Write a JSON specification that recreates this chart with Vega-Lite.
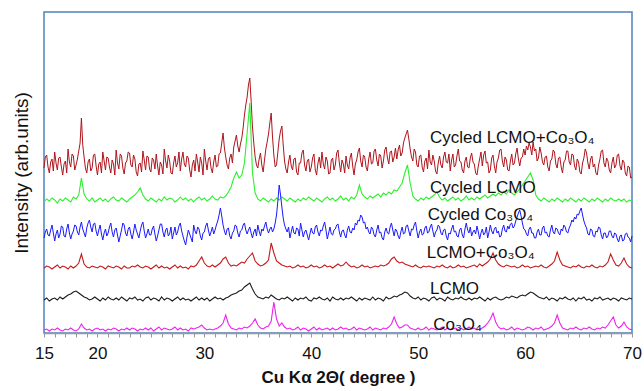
{
"$schema":"https://vega.github.io/schema/vega-lite/v6.json",
"width":588,"height":321,
"autosize":{"type":"none"},
"padding":{"left":44,"top":12,"right":12,"bottom":58},
"background":"white",
"config":{"view":{"stroke":"#4f81bd","strokeWidth":1.5},"font":"Liberation Sans"},
"datasets":{
"A":[{"x":15,"y":165},{"x":15.125,"y":176},{"x":15.25,"y":178},{"x":15.375,"y":166},{"x":15.5,"y":160},{"x":15.625,"y":171},{"x":15.75,"y":174},{"x":15.875,"y":162},{"x":16,"y":181},{"x":16.125,"y":170},{"x":16.25,"y":163},{"x":16.375,"y":175},{"x":16.5,"y":176},{"x":16.625,"y":166},{"x":16.75,"y":158},{"x":16.875,"y":169},{"x":17,"y":172},{"x":17.125,"y":160},{"x":17.25,"y":184},{"x":17.375,"y":171},{"x":17.5,"y":166},{"x":17.625,"y":179},{"x":17.75,"y":177},{"x":17.875,"y":163},{"x":18,"y":168},{"x":18.125,"y":174},{"x":18.25,"y":182},{"x":18.375,"y":190},{"x":18.5,"y":215},{"x":18.625,"y":188},{"x":18.75,"y":176},{"x":18.875,"y":165},{"x":19,"y":160},{"x":19.125,"y":171},{"x":19.25,"y":174},{"x":19.375,"y":162},{"x":19.5,"y":165},{"x":19.625,"y":178},{"x":19.75,"y":179},{"x":19.875,"y":167},{"x":20,"y":158},{"x":20.125,"y":169},{"x":20.25,"y":171},{"x":20.375,"y":160},{"x":20.5,"y":181},{"x":20.625,"y":172},{"x":20.75,"y":163},{"x":20.875,"y":176},{"x":21,"y":175},{"x":21.125,"y":166},{"x":21.25,"y":160},{"x":21.375,"y":173},{"x":21.5,"y":169},{"x":21.625,"y":158},{"x":21.75,"y":183},{"x":21.875,"y":170},{"x":22,"y":164},{"x":22.125,"y":179},{"x":22.25,"y":177},{"x":22.375,"y":165},{"x":22.5,"y":159},{"x":22.625,"y":170},{"x":22.75,"y":172},{"x":22.875,"y":181},{"x":23,"y":180},{"x":23.125,"y":168},{"x":23.25,"y":166},{"x":23.375,"y":178},{"x":23.5,"y":174},{"x":23.625,"y":161},{"x":23.75,"y":157},{"x":23.875,"y":169},{"x":24,"y":170},{"x":24.125,"y":161},{"x":24.25,"y":182},{"x":24.375,"y":173},{"x":24.5,"y":163},{"x":24.625,"y":177},{"x":24.75,"y":176},{"x":24.875,"y":164},{"x":25,"y":161},{"x":25.125,"y":175},{"x":25.25,"y":173},{"x":25.375,"y":164},{"x":25.5,"y":179},{"x":25.625,"y":167},{"x":25.75,"y":158},{"x":25.875,"y":171},{"x":26,"y":168},{"x":26.125,"y":159},{"x":26.25,"y":184},{"x":26.375,"y":172},{"x":26.5,"y":165},{"x":26.625,"y":178},{"x":26.75,"y":172},{"x":26.875,"y":160},{"x":27,"y":159},{"x":27.125,"y":170},{"x":27.25,"y":177},{"x":27.375,"y":166},{"x":27.5,"y":170},{"x":27.625,"y":181},{"x":27.75,"y":162},{"x":27.875,"y":174},{"x":28,"y":181},{"x":28.125,"y":169},{"x":28.25,"y":166},{"x":28.375,"y":177},{"x":28.5,"y":175},{"x":28.625,"y":163},{"x":28.75,"y":156},{"x":28.875,"y":168},{"x":29,"y":173},{"x":29.125,"y":162},{"x":29.25,"y":179},{"x":29.375,"y":171},{"x":29.5,"y":161},{"x":29.625,"y":176},{"x":29.75,"y":170},{"x":29.875,"y":158},{"x":30,"y":184},{"x":30.125,"y":172},{"x":30.25,"y":163},{"x":30.375,"y":174},{"x":30.5,"y":176},{"x":30.625,"y":165},{"x":30.75,"y":160},{"x":30.875,"y":171},{"x":31,"y":178},{"x":31.125,"y":166},{"x":31.25,"y":167},{"x":31.375,"y":179},{"x":31.5,"y":180},{"x":31.625,"y":190},{"x":31.75,"y":200},{"x":31.875,"y":185},{"x":32,"y":176},{"x":32.125,"y":168},{"x":32.25,"y":164},{"x":32.375,"y":175},{"x":32.5,"y":179},{"x":32.625,"y":170},{"x":32.75,"y":186},{"x":32.875,"y":192},{"x":33,"y":198},{"x":33.125,"y":187},{"x":33.25,"y":181},{"x":33.375,"y":189},{"x":33.5,"y":195},{"x":33.625,"y":205},{"x":33.75,"y":218},{"x":33.875,"y":228},{"x":34,"y":236},{"x":34.125,"y":248},{"x":34.25,"y":255},{"x":34.375,"y":232},{"x":34.5,"y":206},{"x":34.625,"y":190},{"x":34.75,"y":176},{"x":34.875,"y":168},{"x":35,"y":165},{"x":35.125,"y":174},{"x":35.25,"y":180},{"x":35.375,"y":168},{"x":35.5,"y":161},{"x":35.625,"y":173},{"x":35.75,"y":184},{"x":35.875,"y":191},{"x":36,"y":199},{"x":36.125,"y":210},{"x":36.25,"y":220},{"x":36.375,"y":196},{"x":36.5,"y":178},{"x":36.625,"y":166},{"x":36.75,"y":168},{"x":36.875,"y":181},{"x":37,"y":194},{"x":37.125,"y":202},{"x":37.25,"y":207},{"x":37.375,"y":188},{"x":37.5,"y":172},{"x":37.625,"y":164},{"x":37.75,"y":160},{"x":37.875,"y":171},{"x":38,"y":178},{"x":38.125,"y":167},{"x":38.25,"y":163},{"x":38.375,"y":174},{"x":38.5,"y":175},{"x":38.625,"y":161},{"x":38.75,"y":158},{"x":38.875,"y":170},{"x":39,"y":170},{"x":39.125,"y":180},{"x":39.25,"y":183},{"x":39.375,"y":168},{"x":39.5,"y":162},{"x":39.625,"y":172},{"x":39.75,"y":174},{"x":39.875,"y":161},{"x":40,"y":166},{"x":40.125,"y":175},{"x":40.25,"y":179},{"x":40.375,"y":163},{"x":40.5,"y":158},{"x":40.625,"y":170},{"x":40.75,"y":176},{"x":40.875,"y":165},{"x":41,"y":181},{"x":41.125,"y":169},{"x":41.25,"y":164},{"x":41.375,"y":176},{"x":41.5,"y":172},{"x":41.625,"y":159},{"x":41.75,"y":160},{"x":41.875,"y":173},{"x":42,"y":175},{"x":42.125,"y":163},{"x":42.25,"y":168},{"x":42.375,"y":180},{"x":42.5,"y":183},{"x":42.625,"y":170},{"x":42.75,"y":161},{"x":42.875,"y":173},{"x":43,"y":169},{"x":43.125,"y":160},{"x":43.25,"y":177},{"x":43.375,"y":168},{"x":43.5,"y":164},{"x":43.625,"y":175},{"x":43.75,"y":180},{"x":43.875,"y":167},{"x":44,"y":158},{"x":44.125,"y":169},{"x":44.25,"y":173},{"x":44.375,"y":181},{"x":44.5,"y":185},{"x":44.625,"y":172},{"x":44.75,"y":166},{"x":44.875,"y":178},{"x":45,"y":176},{"x":45.125,"y":166},{"x":45.25,"y":162},{"x":45.375,"y":174},{"x":45.5,"y":181},{"x":45.625,"y":169},{"x":45.75,"y":170},{"x":45.875,"y":182},{"x":46,"y":184},{"x":46.125,"y":173},{"x":46.25,"y":167},{"x":46.375,"y":179},{"x":46.5,"y":177},{"x":46.625,"y":165},{"x":46.75,"y":172},{"x":46.875,"y":183},{"x":47,"y":186},{"x":47.125,"y":175},{"x":47.25,"y":169},{"x":47.375,"y":181},{"x":47.5,"y":182},{"x":47.625,"y":171},{"x":47.75,"y":176},{"x":47.875,"y":185},{"x":48,"y":174},{"x":48.125,"y":183},{"x":48.25,"y":188},{"x":48.375,"y":177},{"x":48.5,"y":180},{"x":48.625,"y":190},{"x":48.75,"y":195},{"x":48.875,"y":199},{"x":49,"y":203},{"x":49.125,"y":194},{"x":49.25,"y":184},{"x":49.375,"y":176},{"x":49.5,"y":172},{"x":49.625,"y":184},{"x":49.75,"y":181},{"x":49.875,"y":168},{"x":50,"y":166},{"x":50.125,"y":177},{"x":50.25,"y":178},{"x":50.375,"y":166},{"x":50.5,"y":161},{"x":50.625,"y":172},{"x":50.75,"y":175},{"x":50.875,"y":164},{"x":51,"y":183},{"x":51.125,"y":171},{"x":51.25,"y":168},{"x":51.375,"y":178},{"x":51.5,"y":172},{"x":51.625,"y":162},{"x":51.75,"y":159},{"x":51.875,"y":170},{"x":52,"y":177},{"x":52.125,"y":168},{"x":52.25,"y":165},{"x":52.375,"y":176},{"x":52.5,"y":181},{"x":52.625,"y":171},{"x":52.75,"y":170},{"x":52.875,"y":179},{"x":53,"y":162},{"x":53.125,"y":173},{"x":53.25,"y":179},{"x":53.375,"y":166},{"x":53.5,"y":168},{"x":53.625,"y":177},{"x":53.75,"y":184},{"x":53.875,"y":172},{"x":54,"y":171},{"x":54.125,"y":163},{"x":54.25,"y":160},{"x":54.375,"y":172},{"x":54.5,"y":176},{"x":54.625,"y":166},{"x":54.75,"y":165},{"x":54.875,"y":175},{"x":55,"y":180},{"x":55.125,"y":171},{"x":55.25,"y":169},{"x":55.375,"y":160},{"x":55.5,"y":158},{"x":55.625,"y":167},{"x":55.75,"y":174},{"x":55.875,"y":181},{"x":56,"y":167},{"x":56.125,"y":178},{"x":56.25,"y":182},{"x":56.375,"y":170},{"x":56.5,"y":171},{"x":56.625,"y":160},{"x":56.75,"y":163},{"x":56.875,"y":175},{"x":57,"y":178},{"x":57.125,"y":167},{"x":57.25,"y":160},{"x":57.375,"y":171},{"x":57.5,"y":175},{"x":57.625,"y":183},{"x":57.75,"y":184},{"x":57.875,"y":172},{"x":58,"y":166},{"x":58.125,"y":176},{"x":58.25,"y":173},{"x":58.375,"y":163},{"x":58.5,"y":162},{"x":58.625,"y":172},{"x":58.75,"y":179},{"x":58.875,"y":168},{"x":59,"y":170},{"x":59.125,"y":179},{"x":59.25,"y":185},{"x":59.375,"y":174},{"x":59.5,"y":167},{"x":59.625,"y":175},{"x":59.75,"y":176},{"x":59.875,"y":184},{"x":60,"y":178},{"x":60.125,"y":187},{"x":60.25,"y":183},{"x":60.375,"y":190},{"x":60.5,"y":186},{"x":60.625,"y":178},{"x":60.75,"y":191},{"x":60.875,"y":182},{"x":61,"y":184},{"x":61.125,"y":172},{"x":61.25,"y":175},{"x":61.375,"y":186},{"x":61.5,"y":180},{"x":61.625,"y":171},{"x":61.75,"y":168},{"x":61.875,"y":176},{"x":62,"y":177},{"x":62.125,"y":166},{"x":62.25,"y":162},{"x":62.375,"y":172},{"x":62.5,"y":174},{"x":62.625,"y":183},{"x":62.75,"y":181},{"x":62.875,"y":169},{"x":63,"y":165},{"x":63.125,"y":175},{"x":63.25,"y":176},{"x":63.375,"y":166},{"x":63.5,"y":160},{"x":63.625,"y":171},{"x":63.75,"y":173},{"x":63.875,"y":182},{"x":64,"y":182},{"x":64.125,"y":171},{"x":64.25,"y":168},{"x":64.375,"y":179},{"x":64.5,"y":178},{"x":64.625,"y":167},{"x":64.75,"y":163},{"x":64.875,"y":174},{"x":65,"y":171},{"x":65.125,"y":161},{"x":65.25,"y":159},{"x":65.375,"y":170},{"x":65.5,"y":175},{"x":65.625,"y":184},{"x":65.75,"y":180},{"x":65.875,"y":170},{"x":66,"y":164},{"x":66.125,"y":174},{"x":66.25,"y":177},{"x":66.375,"y":166},{"x":66.5,"y":169},{"x":66.625,"y":160},{"x":66.75,"y":158},{"x":66.875,"y":168},{"x":67,"y":174},{"x":67.125,"y":182},{"x":67.25,"y":183},{"x":67.375,"y":170},{"x":67.5,"y":166},{"x":67.625,"y":175},{"x":67.75,"y":172},{"x":67.875,"y":163},{"x":68,"y":160},{"x":68.125,"y":170},{"x":68.25,"y":176},{"x":68.375,"y":165},{"x":68.5,"y":168},{"x":68.625,"y":178},{"x":68.75,"y":179},{"x":68.875,"y":167},{"x":69,"y":163},{"x":69.125,"y":173},{"x":69.25,"y":171},{"x":69.375,"y":160},{"x":69.5,"y":157},{"x":69.625,"y":167},{"x":69.75,"y":166},{"x":69.875,"y":155},{"x":70,"y":156}],
"B":[{"x":15,"y":131},{"x":15.25,"y":134},{"x":15.5,"y":132},{"x":15.75,"y":135},{"x":16,"y":133},{"x":16.25,"y":130},{"x":16.5,"y":134},{"x":16.75,"y":132},{"x":17,"y":135},{"x":17.25,"y":133},{"x":17.5,"y":131},{"x":17.75,"y":136},{"x":18,"y":134},{"x":18.25,"y":138},{"x":18.5,"y":155},{"x":18.75,"y":139},{"x":19,"y":134},{"x":19.25,"y":132},{"x":19.5,"y":135},{"x":19.75,"y":131},{"x":20,"y":133},{"x":20.25,"y":135},{"x":20.5,"y":132},{"x":20.75,"y":134},{"x":21,"y":131},{"x":21.25,"y":134},{"x":21.5,"y":136},{"x":21.75,"y":133},{"x":22,"y":132},{"x":22.25,"y":135},{"x":22.5,"y":133},{"x":22.75,"y":131},{"x":23,"y":134},{"x":23.25,"y":136},{"x":23.5,"y":138},{"x":23.75,"y":141},{"x":24,"y":145},{"x":24.25,"y":138},{"x":24.5,"y":134},{"x":24.75,"y":132},{"x":25,"y":135},{"x":25.25,"y":133},{"x":25.5,"y":131},{"x":25.75,"y":134},{"x":26,"y":132},{"x":26.25,"y":136},{"x":26.5,"y":133},{"x":26.75,"y":135},{"x":27,"y":134},{"x":27.25,"y":131},{"x":27.5,"y":133},{"x":27.75,"y":136},{"x":28,"y":133},{"x":28.25,"y":135},{"x":28.5,"y":132},{"x":28.75,"y":134},{"x":29,"y":131},{"x":29.25,"y":134},{"x":29.5,"y":136},{"x":29.75,"y":133},{"x":30,"y":135},{"x":30.25,"y":132},{"x":30.5,"y":134},{"x":30.75,"y":137},{"x":31,"y":134},{"x":31.25,"y":133},{"x":31.5,"y":136},{"x":31.75,"y":135},{"x":32,"y":137},{"x":32.25,"y":141},{"x":32.5,"y":146},{"x":32.75,"y":155},{"x":33,"y":161},{"x":33.25,"y":155},{"x":33.5,"y":158},{"x":33.75,"y":170},{"x":34,"y":200},{"x":34.25,"y":230},{"x":34.5,"y":160},{"x":34.75,"y":140},{"x":35,"y":134},{"x":35.25,"y":132},{"x":35.5,"y":135},{"x":35.75,"y":133},{"x":36,"y":131},{"x":36.25,"y":134},{"x":36.5,"y":132},{"x":36.75,"y":135},{"x":37,"y":133},{"x":37.25,"y":136},{"x":37.5,"y":134},{"x":37.75,"y":132},{"x":38,"y":135},{"x":38.25,"y":133},{"x":38.5,"y":131},{"x":38.75,"y":134},{"x":39,"y":132},{"x":39.25,"y":135},{"x":39.5,"y":133},{"x":39.75,"y":136},{"x":40,"y":134},{"x":40.25,"y":132},{"x":40.5,"y":135},{"x":40.75,"y":133},{"x":41,"y":131},{"x":41.25,"y":134},{"x":41.5,"y":136},{"x":41.75,"y":133},{"x":42,"y":135},{"x":42.25,"y":132},{"x":42.5,"y":134},{"x":42.75,"y":137},{"x":43,"y":133},{"x":43.25,"y":135},{"x":43.5,"y":132},{"x":43.75,"y":136},{"x":44,"y":134},{"x":44.25,"y":138},{"x":44.5,"y":148},{"x":44.75,"y":139},{"x":45,"y":136},{"x":45.25,"y":134},{"x":45.5,"y":137},{"x":45.75,"y":135},{"x":46,"y":137},{"x":46.25,"y":139},{"x":46.5,"y":136},{"x":46.75,"y":140},{"x":47,"y":138},{"x":47.25,"y":141},{"x":47.5,"y":139},{"x":47.75,"y":143},{"x":48,"y":142},{"x":48.25,"y":146},{"x":48.5,"y":150},{"x":48.75,"y":160},{"x":49,"y":168},{"x":49.25,"y":150},{"x":49.5,"y":137},{"x":49.75,"y":134},{"x":50,"y":132},{"x":50.25,"y":135},{"x":50.5,"y":133},{"x":50.75,"y":136},{"x":51,"y":134},{"x":51.25,"y":136},{"x":51.5,"y":138},{"x":51.75,"y":141},{"x":52,"y":136},{"x":52.25,"y":133},{"x":52.5,"y":135},{"x":52.75,"y":132},{"x":53,"y":134},{"x":53.25,"y":136},{"x":53.5,"y":133},{"x":53.75,"y":135},{"x":54,"y":132},{"x":54.25,"y":134},{"x":54.5,"y":137},{"x":54.75,"y":133},{"x":55,"y":135},{"x":55.25,"y":133},{"x":55.5,"y":136},{"x":55.75,"y":134},{"x":56,"y":136},{"x":56.25,"y":138},{"x":56.5,"y":135},{"x":56.75,"y":137},{"x":57,"y":139},{"x":57.25,"y":137},{"x":57.5,"y":140},{"x":57.75,"y":138},{"x":58,"y":141},{"x":58.25,"y":139},{"x":58.5,"y":143},{"x":58.75,"y":140},{"x":59,"y":138},{"x":59.25,"y":141},{"x":59.5,"y":144},{"x":59.75,"y":148},{"x":60,"y":152},{"x":60.25,"y":156},{"x":60.5,"y":160},{"x":60.75,"y":153},{"x":61,"y":138},{"x":61.25,"y":134},{"x":61.5,"y":132},{"x":61.75,"y":135},{"x":62,"y":133},{"x":62.25,"y":131},{"x":62.5,"y":134},{"x":62.75,"y":132},{"x":63,"y":135},{"x":63.25,"y":133},{"x":63.5,"y":131},{"x":63.75,"y":134},{"x":64,"y":132},{"x":64.25,"y":135},{"x":64.5,"y":133},{"x":64.75,"y":131},{"x":65,"y":134},{"x":65.25,"y":132},{"x":65.5,"y":135},{"x":65.75,"y":133},{"x":66,"y":131},{"x":66.25,"y":134},{"x":66.5,"y":132},{"x":66.75,"y":135},{"x":67,"y":133},{"x":67.25,"y":131},{"x":67.5,"y":134},{"x":67.75,"y":132},{"x":68,"y":135},{"x":68.25,"y":133},{"x":68.5,"y":132},{"x":68.75,"y":134},{"x":69,"y":132},{"x":69.25,"y":134},{"x":69.5,"y":131},{"x":69.75,"y":133},{"x":70,"y":132}],
"C":[{"x":15,"y":95},{"x":15.125,"y":101},{"x":15.25,"y":104},{"x":15.375,"y":98},{"x":15.5,"y":97},{"x":15.625,"y":103},{"x":15.75,"y":108},{"x":15.875,"y":100},{"x":16,"y":92},{"x":16.125,"y":99},{"x":16.25,"y":103},{"x":16.375,"y":95},{"x":16.5,"y":99},{"x":16.625,"y":107},{"x":16.75,"y":106},{"x":16.875,"y":97},{"x":17,"y":96},{"x":17.125,"y":104},{"x":17.25,"y":109},{"x":17.375,"y":100},{"x":17.5,"y":94},{"x":17.625,"y":99},{"x":17.75,"y":102},{"x":17.875,"y":108},{"x":18,"y":107},{"x":18.125,"y":101},{"x":18.25,"y":98},{"x":18.375,"y":106},{"x":18.5,"y":111},{"x":18.625,"y":104},{"x":18.75,"y":100},{"x":18.875,"y":96},{"x":19,"y":105},{"x":19.125,"y":110},{"x":19.25,"y":113},{"x":19.375,"y":106},{"x":19.5,"y":101},{"x":19.625,"y":109},{"x":19.75,"y":110},{"x":19.875,"y":102},{"x":20,"y":97},{"x":20.125,"y":103},{"x":20.25,"y":108},{"x":20.375,"y":99},{"x":20.5,"y":93},{"x":20.625,"y":100},{"x":20.75,"y":104},{"x":20.875,"y":97},{"x":21,"y":100},{"x":21.125,"y":106},{"x":21.25,"y":110},{"x":21.375,"y":101},{"x":21.5,"y":96},{"x":21.625,"y":103},{"x":21.75,"y":105},{"x":21.875,"y":98},{"x":22,"y":91},{"x":22.125,"y":97},{"x":22.25,"y":103},{"x":22.375,"y":110},{"x":22.5,"y":108},{"x":22.625,"y":100},{"x":22.75,"y":97},{"x":22.875,"y":104},{"x":23,"y":106},{"x":23.125,"y":99},{"x":23.25,"y":94},{"x":23.375,"y":101},{"x":23.5,"y":109},{"x":23.625,"y":103},{"x":23.75,"y":99},{"x":23.875,"y":95},{"x":24,"y":102},{"x":24.125,"y":108},{"x":24.25,"y":111},{"x":24.375,"y":102},{"x":24.5,"y":95},{"x":24.625,"y":99},{"x":24.75,"y":104},{"x":24.875,"y":98},{"x":25,"y":98},{"x":25.125,"y":104},{"x":25.25,"y":107},{"x":25.375,"y":99},{"x":25.5,"y":92},{"x":25.625,"y":97},{"x":25.75,"y":103},{"x":25.875,"y":109},{"x":26,"y":109},{"x":26.125,"y":101},{"x":26.25,"y":96},{"x":26.375,"y":103},{"x":26.5,"y":105},{"x":26.625,"y":97},{"x":26.75,"y":99},{"x":26.875,"y":106},{"x":27,"y":94},{"x":27.125,"y":100},{"x":27.25,"y":106},{"x":27.375,"y":98},{"x":27.5,"y":101},{"x":27.625,"y":107},{"x":27.75,"y":110},{"x":27.875,"y":102},{"x":28,"y":97},{"x":28.125,"y":92},{"x":28.25,"y":88},{"x":28.375,"y":96},{"x":28.5,"y":103},{"x":28.625,"y":99},{"x":28.75,"y":95},{"x":28.875,"y":91},{"x":29,"y":108},{"x":29.125,"y":102},{"x":29.25,"y":99},{"x":29.375,"y":106},{"x":29.5,"y":104},{"x":29.625,"y":97},{"x":29.75,"y":93},{"x":29.875,"y":100},{"x":30,"y":101},{"x":30.125,"y":107},{"x":30.25,"y":110},{"x":30.375,"y":103},{"x":30.5,"y":97},{"x":30.625,"y":101},{"x":30.75,"y":106},{"x":30.875,"y":99},{"x":31,"y":103},{"x":31.125,"y":108},{"x":31.25,"y":112},{"x":31.375,"y":118},{"x":31.5,"y":125},{"x":31.625,"y":117},{"x":31.75,"y":108},{"x":31.875,"y":102},{"x":32,"y":98},{"x":32.125,"y":104},{"x":32.25,"y":105},{"x":32.375,"y":97},{"x":32.5,"y":94},{"x":32.625,"y":100},{"x":32.75,"y":102},{"x":32.875,"y":108},{"x":33,"y":107},{"x":33.125,"y":100},{"x":33.25,"y":96},{"x":33.375,"y":102},{"x":33.5,"y":103},{"x":33.625,"y":108},{"x":33.75,"y":110},{"x":33.875,"y":103},{"x":34,"y":99},{"x":34.125,"y":103},{"x":34.25,"y":106},{"x":34.375,"y":100},{"x":34.5,"y":95},{"x":34.625,"y":101},{"x":34.75,"y":104},{"x":34.875,"y":97},{"x":35,"y":108},{"x":35.125,"y":102},{"x":35.25,"y":97},{"x":35.375,"y":104},{"x":35.5,"y":102},{"x":35.625,"y":107},{"x":35.75,"y":111},{"x":35.875,"y":104},{"x":36,"y":100},{"x":36.125,"y":104},{"x":36.25,"y":106},{"x":36.375,"y":101},{"x":36.5,"y":104},{"x":36.625,"y":110},{"x":36.75,"y":118},{"x":36.875,"y":132},{"x":37,"y":148},{"x":37.125,"y":138},{"x":37.25,"y":126},{"x":37.375,"y":115},{"x":37.5,"y":108},{"x":37.625,"y":104},{"x":37.75,"y":101},{"x":37.875,"y":106},{"x":38,"y":95},{"x":38.125,"y":101},{"x":38.25,"y":107},{"x":38.375,"y":100},{"x":38.5,"y":99},{"x":38.625,"y":105},{"x":38.75,"y":104},{"x":38.875,"y":97},{"x":39,"y":110},{"x":39.125,"y":103},{"x":39.25,"y":96},{"x":39.375,"y":101},{"x":39.5,"y":103},{"x":39.625,"y":98},{"x":39.75,"y":93},{"x":39.875,"y":99},{"x":40,"y":105},{"x":40.125,"y":100},{"x":40.25,"y":99},{"x":40.375,"y":106},{"x":40.5,"y":108},{"x":40.625,"y":101},{"x":40.75,"y":97},{"x":40.875,"y":103},{"x":41,"y":102},{"x":41.125,"y":107},{"x":41.25,"y":111},{"x":41.375,"y":103},{"x":41.5,"y":94},{"x":41.625,"y":100},{"x":41.75,"y":106},{"x":41.875,"y":99},{"x":42,"y":98},{"x":42.125,"y":103},{"x":42.25,"y":104},{"x":42.375,"y":108},{"x":42.5,"y":109},{"x":42.625,"y":101},{"x":42.75,"y":96},{"x":42.875,"y":102},{"x":43,"y":103},{"x":43.125,"y":98},{"x":43.25,"y":95},{"x":43.375,"y":103},{"x":43.5,"y":107},{"x":43.625,"y":101},{"x":43.75,"y":100},{"x":43.875,"y":105},{"x":44,"y":103},{"x":44.125,"y":110},{"x":44.25,"y":108},{"x":44.375,"y":113},{"x":44.5,"y":112},{"x":44.625,"y":118},{"x":44.75,"y":116},{"x":44.875,"y":110},{"x":45,"y":111},{"x":45.125,"y":104},{"x":45.25,"y":106},{"x":45.375,"y":101},{"x":45.5,"y":99},{"x":45.625,"y":106},{"x":45.75,"y":104},{"x":45.875,"y":98},{"x":46,"y":96},{"x":46.125,"y":103},{"x":46.25,"y":108},{"x":46.375,"y":100},{"x":46.5,"y":101},{"x":46.625,"y":95},{"x":46.75,"y":93},{"x":46.875,"y":101},{"x":47,"y":105},{"x":47.125,"y":100},{"x":47.25,"y":99},{"x":47.375,"y":106},{"x":47.5,"y":110},{"x":47.625,"y":103},{"x":47.75,"y":97},{"x":47.875,"y":104},{"x":48,"y":102},{"x":48.125,"y":97},{"x":48.25,"y":94},{"x":48.375,"y":101},{"x":48.5,"y":106},{"x":48.625,"y":99},{"x":48.75,"y":100},{"x":48.875,"y":107},{"x":49,"y":108},{"x":49.125,"y":102},{"x":49.25,"y":97},{"x":49.375,"y":104},{"x":49.5,"y":103},{"x":49.625,"y":108},{"x":49.75,"y":111},{"x":49.875,"y":102},{"x":50,"y":95},{"x":50.125,"y":101},{"x":50.25,"y":104},{"x":50.375,"y":98},{"x":50.5,"y":99},{"x":50.625,"y":105},{"x":50.75,"y":107},{"x":50.875,"y":100},{"x":51,"y":101},{"x":51.125,"y":106},{"x":51.25,"y":109},{"x":51.375,"y":102},{"x":51.5,"y":96},{"x":51.625,"y":101},{"x":51.75,"y":103},{"x":51.875,"y":108},{"x":52,"y":106},{"x":52.125,"y":100},{"x":52.25,"y":98},{"x":52.375,"y":103},{"x":52.5,"y":104},{"x":52.625,"y":97},{"x":52.75,"y":93},{"x":52.875,"y":100},{"x":53,"y":99},{"x":53.125,"y":104},{"x":53.25,"y":108},{"x":53.375,"y":101},{"x":53.5,"y":102},{"x":53.625,"y":97},{"x":53.75,"y":96},{"x":53.875,"y":103},{"x":54,"y":105},{"x":54.125,"y":98},{"x":54.25,"y":95},{"x":54.375,"y":104},{"x":54.5,"y":110},{"x":54.625,"y":103},{"x":54.75,"y":100},{"x":54.875,"y":106},{"x":55,"y":97},{"x":55.125,"y":101},{"x":55.25,"y":103},{"x":55.375,"y":99},{"x":55.5,"y":107},{"x":55.625,"y":101},{"x":55.75,"y":94},{"x":55.875,"y":100},{"x":56,"y":104},{"x":56.125,"y":98},{"x":56.25,"y":100},{"x":56.375,"y":106},{"x":56.5,"y":95},{"x":56.625,"y":101},{"x":56.75,"y":108},{"x":56.875,"y":102},{"x":57,"y":99},{"x":57.125,"y":104},{"x":57.25,"y":106},{"x":57.375,"y":100},{"x":57.5,"y":102},{"x":57.625,"y":96},{"x":57.75,"y":97},{"x":57.875,"y":104},{"x":58,"y":108},{"x":58.125,"y":102},{"x":58.25,"y":101},{"x":58.375,"y":107},{"x":58.5,"y":104},{"x":58.625,"y":109},{"x":58.75,"y":110},{"x":58.875,"y":105},{"x":59,"y":107},{"x":59.125,"y":112},{"x":59.25,"y":116},{"x":59.375,"y":120},{"x":59.5,"y":123},{"x":59.625,"y":117},{"x":59.75,"y":110},{"x":59.875,"y":104},{"x":60,"y":103},{"x":60.125,"y":99},{"x":60.25,"y":97},{"x":60.375,"y":104},{"x":60.5,"y":106},{"x":60.625,"y":100},{"x":60.75,"y":100},{"x":60.875,"y":95},{"x":61,"y":95},{"x":61.125,"y":101},{"x":61.25,"y":104},{"x":61.375,"y":98},{"x":61.5,"y":98},{"x":61.625,"y":105},{"x":61.75,"y":107},{"x":61.875,"y":100},{"x":62,"y":101},{"x":62.125,"y":97},{"x":62.25,"y":96},{"x":62.375,"y":103},{"x":62.5,"y":108},{"x":62.625,"y":101},{"x":62.75,"y":99},{"x":62.875,"y":105},{"x":63,"y":104},{"x":63.125,"y":100},{"x":63.25,"y":98},{"x":63.375,"y":104},{"x":63.5,"y":102},{"x":63.625,"y":108},{"x":63.75,"y":106},{"x":63.875,"y":101},{"x":64,"y":100},{"x":64.125,"y":105},{"x":64.25,"y":108},{"x":64.375,"y":113},{"x":64.5,"y":111},{"x":64.625,"y":116},{"x":64.75,"y":114},{"x":64.875,"y":119},{"x":65,"y":118},{"x":65.125,"y":122},{"x":65.25,"y":125},{"x":65.375,"y":118},{"x":65.5,"y":112},{"x":65.625,"y":108},{"x":65.75,"y":105},{"x":65.875,"y":99},{"x":66,"y":98},{"x":66.125,"y":104},{"x":66.25,"y":103},{"x":66.375,"y":97},{"x":66.5,"y":96},{"x":66.625,"y":102},{"x":66.75,"y":101},{"x":66.875,"y":106},{"x":67,"y":105},{"x":67.125,"y":98},{"x":67.25,"y":94},{"x":67.375,"y":100},{"x":67.5,"y":100},{"x":67.625,"y":95},{"x":67.75,"y":97},{"x":67.875,"y":102},{"x":68,"y":102},{"x":68.125,"y":97},{"x":68.25,"y":95},{"x":68.375,"y":100},{"x":68.5,"y":99},{"x":68.625,"y":94},{"x":68.75,"y":91},{"x":68.875,"y":97},{"x":69,"y":98},{"x":69.125,"y":92},{"x":69.25,"y":93},{"x":69.375,"y":99},{"x":69.5,"y":100},{"x":69.625,"y":96},{"x":69.75,"y":95},{"x":69.875,"y":91},{"x":70,"y":97}],
"D":[{"x":15,"y":65},{"x":15.25,"y":67},{"x":15.5,"y":66},{"x":15.75,"y":64},{"x":16,"y":66},{"x":16.25,"y":68},{"x":16.5,"y":65},{"x":16.75,"y":67},{"x":17,"y":66},{"x":17.25,"y":64},{"x":17.5,"y":67},{"x":17.75,"y":65},{"x":18,"y":67},{"x":18.25,"y":70},{"x":18.5,"y":79},{"x":18.75,"y":69},{"x":19,"y":66},{"x":19.25,"y":65},{"x":19.5,"y":67},{"x":19.75,"y":66},{"x":20,"y":65},{"x":20.25,"y":67},{"x":20.5,"y":66},{"x":20.75,"y":64},{"x":21,"y":67},{"x":21.25,"y":66},{"x":21.5,"y":65},{"x":21.75,"y":67},{"x":22,"y":66},{"x":22.25,"y":64},{"x":22.5,"y":67},{"x":22.75,"y":65},{"x":23,"y":65},{"x":23.25,"y":67},{"x":23.5,"y":66},{"x":23.75,"y":68},{"x":24,"y":66},{"x":24.25,"y":65},{"x":24.5,"y":67},{"x":24.75,"y":66},{"x":25,"y":64},{"x":25.25,"y":66},{"x":25.5,"y":68},{"x":25.75,"y":65},{"x":26,"y":67},{"x":26.25,"y":65},{"x":26.5,"y":66},{"x":26.75,"y":64},{"x":27,"y":66},{"x":27.25,"y":68},{"x":27.5,"y":65},{"x":27.75,"y":67},{"x":28,"y":65},{"x":28.25,"y":66},{"x":28.5,"y":64},{"x":28.75,"y":67},{"x":29,"y":66},{"x":29.25,"y":68},{"x":29.5,"y":72},{"x":29.75,"y":76},{"x":30,"y":70},{"x":30.25,"y":67},{"x":30.5,"y":66},{"x":30.75,"y":68},{"x":31,"y":66},{"x":31.25,"y":68},{"x":31.5,"y":70},{"x":31.75,"y":74},{"x":32,"y":76},{"x":32.25,"y":70},{"x":32.5,"y":67},{"x":32.75,"y":68},{"x":33,"y":67},{"x":33.25,"y":69},{"x":33.5,"y":71},{"x":33.75,"y":70},{"x":34,"y":74},{"x":34.25,"y":77},{"x":34.5,"y":80},{"x":34.75,"y":72},{"x":35,"y":69},{"x":35.25,"y":67},{"x":35.5,"y":68},{"x":35.75,"y":70},{"x":36,"y":73},{"x":36.25,"y":90},{"x":36.5,"y":80},{"x":36.75,"y":72},{"x":37,"y":70},{"x":37.25,"y":68},{"x":37.5,"y":67},{"x":37.75,"y":66},{"x":38,"y":67},{"x":38.25,"y":65},{"x":38.5,"y":66},{"x":38.75,"y":68},{"x":39,"y":66},{"x":39.25,"y":67},{"x":39.5,"y":65},{"x":39.75,"y":66},{"x":40,"y":68},{"x":40.25,"y":66},{"x":40.5,"y":67},{"x":40.75,"y":65},{"x":41,"y":66},{"x":41.25,"y":68},{"x":41.5,"y":66},{"x":41.75,"y":67},{"x":42,"y":65},{"x":42.25,"y":67},{"x":42.5,"y":69},{"x":42.75,"y":67},{"x":43,"y":68},{"x":43.25,"y":71},{"x":43.5,"y":68},{"x":43.75,"y":66},{"x":44,"y":67},{"x":44.25,"y":65},{"x":44.5,"y":66},{"x":44.75,"y":68},{"x":45,"y":66},{"x":45.25,"y":67},{"x":45.5,"y":65},{"x":45.75,"y":66},{"x":46,"y":67},{"x":46.25,"y":66},{"x":46.5,"y":68},{"x":46.75,"y":67},{"x":47,"y":68},{"x":47.25,"y":70},{"x":47.5,"y":74},{"x":47.75,"y":76},{"x":48,"y":72},{"x":48.25,"y":70},{"x":48.5,"y":71},{"x":48.75,"y":69},{"x":49,"y":68},{"x":49.25,"y":67},{"x":49.5,"y":66},{"x":49.75,"y":68},{"x":50,"y":66},{"x":50.25,"y":65},{"x":50.5,"y":67},{"x":50.75,"y":66},{"x":51,"y":67},{"x":51.25,"y":66},{"x":51.5,"y":65},{"x":51.75,"y":67},{"x":52,"y":66},{"x":52.25,"y":68},{"x":52.5,"y":66},{"x":52.75,"y":65},{"x":53,"y":67},{"x":53.25,"y":65},{"x":53.5,"y":66},{"x":53.75,"y":68},{"x":54,"y":66},{"x":54.25,"y":67},{"x":54.5,"y":65},{"x":54.75,"y":66},{"x":55,"y":67},{"x":55.25,"y":68},{"x":55.5,"y":66},{"x":55.75,"y":69},{"x":56,"y":67},{"x":56.25,"y":69},{"x":56.5,"y":71},{"x":56.75,"y":74},{"x":57,"y":80},{"x":57.25,"y":73},{"x":57.5,"y":69},{"x":57.75,"y":67},{"x":58,"y":66},{"x":58.25,"y":68},{"x":58.5,"y":67},{"x":58.75,"y":66},{"x":59,"y":67},{"x":59.25,"y":65},{"x":59.5,"y":66},{"x":59.75,"y":68},{"x":60,"y":66},{"x":60.25,"y":67},{"x":60.5,"y":65},{"x":60.75,"y":66},{"x":61,"y":67},{"x":61.25,"y":66},{"x":61.5,"y":68},{"x":61.75,"y":66},{"x":62,"y":65},{"x":62.25,"y":67},{"x":62.5,"y":69},{"x":62.75,"y":72},{"x":63,"y":81},{"x":63.25,"y":73},{"x":63.5,"y":68},{"x":63.75,"y":67},{"x":64,"y":66},{"x":64.25,"y":65},{"x":64.5,"y":67},{"x":64.75,"y":66},{"x":65,"y":68},{"x":65.25,"y":66},{"x":65.5,"y":65},{"x":65.75,"y":67},{"x":66,"y":66},{"x":66.25,"y":68},{"x":66.5,"y":66},{"x":66.75,"y":65},{"x":67,"y":67},{"x":67.25,"y":66},{"x":67.5,"y":68},{"x":67.75,"y":71},{"x":68,"y":79},{"x":68.25,"y":73},{"x":68.5,"y":68},{"x":68.75,"y":67},{"x":69,"y":70},{"x":69.25,"y":75},{"x":69.5,"y":69},{"x":69.75,"y":66},{"x":70,"y":65}],
"E":[{"x":15,"y":33},{"x":15.25,"y":35},{"x":15.5,"y":32},{"x":15.75,"y":34},{"x":16,"y":35},{"x":16.25,"y":33},{"x":16.5,"y":36},{"x":16.75,"y":34},{"x":17,"y":36},{"x":17.25,"y":38},{"x":17.5,"y":39},{"x":17.75,"y":41},{"x":18,"y":42},{"x":18.25,"y":40},{"x":18.5,"y":38},{"x":18.75,"y":36},{"x":19,"y":35},{"x":19.25,"y":33},{"x":19.5,"y":34},{"x":19.75,"y":36},{"x":20,"y":34},{"x":20.25,"y":32},{"x":20.5,"y":35},{"x":20.75,"y":33},{"x":21,"y":36},{"x":21.25,"y":34},{"x":21.5,"y":33},{"x":21.75,"y":35},{"x":22,"y":33},{"x":22.25,"y":36},{"x":22.5,"y":34},{"x":22.75,"y":32},{"x":23,"y":35},{"x":23.25,"y":34},{"x":23.5,"y":36},{"x":23.75,"y":33},{"x":24,"y":34},{"x":24.25,"y":32},{"x":24.5,"y":35},{"x":24.75,"y":36},{"x":25,"y":33},{"x":25.25,"y":35},{"x":25.5,"y":34},{"x":25.75,"y":32},{"x":26,"y":36},{"x":26.25,"y":33},{"x":26.5,"y":35},{"x":26.75,"y":34},{"x":27,"y":32},{"x":27.25,"y":34},{"x":27.5,"y":36},{"x":27.75,"y":33},{"x":28,"y":35},{"x":28.25,"y":33},{"x":28.5,"y":34},{"x":28.75,"y":32},{"x":29,"y":34},{"x":29.25,"y":36},{"x":29.5,"y":33},{"x":29.75,"y":35},{"x":30,"y":33},{"x":30.25,"y":35},{"x":30.5,"y":32},{"x":30.75,"y":34},{"x":31,"y":36},{"x":31.25,"y":34},{"x":31.5,"y":35},{"x":31.75,"y":33},{"x":32,"y":35},{"x":32.25,"y":36},{"x":32.5,"y":38},{"x":32.75,"y":39},{"x":33,"y":40},{"x":33.25,"y":42},{"x":33.5,"y":43},{"x":33.75,"y":46},{"x":34,"y":48},{"x":34.25,"y":50},{"x":34.5,"y":44},{"x":34.75,"y":39},{"x":35,"y":36},{"x":35.25,"y":35},{"x":35.5,"y":34},{"x":35.75,"y":36},{"x":36,"y":35},{"x":36.25,"y":38},{"x":36.5,"y":36},{"x":36.75,"y":34},{"x":37,"y":33},{"x":37.25,"y":35},{"x":37.5,"y":34},{"x":37.75,"y":36},{"x":38,"y":34},{"x":38.25,"y":32},{"x":38.5,"y":35},{"x":38.75,"y":33},{"x":39,"y":35},{"x":39.25,"y":34},{"x":39.5,"y":36},{"x":39.75,"y":33},{"x":40,"y":32},{"x":40.25,"y":35},{"x":40.5,"y":34},{"x":40.75,"y":36},{"x":41,"y":34},{"x":41.25,"y":33},{"x":41.5,"y":35},{"x":41.75,"y":32},{"x":42,"y":36},{"x":42.25,"y":34},{"x":42.5,"y":33},{"x":42.75,"y":35},{"x":43,"y":33},{"x":43.25,"y":35},{"x":43.5,"y":34},{"x":43.75,"y":36},{"x":44,"y":34},{"x":44.25,"y":32},{"x":44.5,"y":35},{"x":44.75,"y":33},{"x":45,"y":35},{"x":45.25,"y":34},{"x":45.5,"y":33},{"x":45.75,"y":36},{"x":46,"y":33},{"x":46.25,"y":35},{"x":46.5,"y":34},{"x":46.75,"y":32},{"x":47,"y":36},{"x":47.25,"y":34},{"x":47.5,"y":35},{"x":47.75,"y":37},{"x":48,"y":36},{"x":48.25,"y":38},{"x":48.5,"y":39},{"x":48.75,"y":41},{"x":49,"y":40},{"x":49.25,"y":37},{"x":49.5,"y":35},{"x":49.75,"y":34},{"x":50,"y":36},{"x":50.25,"y":33},{"x":50.5,"y":35},{"x":50.75,"y":34},{"x":51,"y":32},{"x":51.25,"y":35},{"x":51.5,"y":36},{"x":51.75,"y":33},{"x":52,"y":35},{"x":52.25,"y":34},{"x":52.5,"y":32},{"x":52.75,"y":36},{"x":53,"y":34},{"x":53.25,"y":33},{"x":53.5,"y":35},{"x":53.75,"y":34},{"x":54,"y":36},{"x":54.25,"y":34},{"x":54.5,"y":33},{"x":54.75,"y":35},{"x":55,"y":33},{"x":55.25,"y":35},{"x":55.5,"y":34},{"x":55.75,"y":36},{"x":56,"y":34},{"x":56.25,"y":32},{"x":56.5,"y":35},{"x":56.75,"y":33},{"x":57,"y":35},{"x":57.25,"y":36},{"x":57.5,"y":34},{"x":57.75,"y":33},{"x":58,"y":34},{"x":58.25,"y":36},{"x":58.5,"y":35},{"x":58.75,"y":37},{"x":59,"y":36},{"x":59.25,"y":35},{"x":59.5,"y":37},{"x":59.75,"y":38},{"x":60,"y":37},{"x":60.25,"y":39},{"x":60.5,"y":41},{"x":60.75,"y":40},{"x":61,"y":38},{"x":61.25,"y":36},{"x":61.5,"y":35},{"x":61.75,"y":34},{"x":62,"y":36},{"x":62.25,"y":33},{"x":62.5,"y":35},{"x":62.75,"y":34},{"x":63,"y":32},{"x":63.25,"y":35},{"x":63.5,"y":34},{"x":63.75,"y":36},{"x":64,"y":34},{"x":64.25,"y":33},{"x":64.5,"y":35},{"x":64.75,"y":32},{"x":65,"y":35},{"x":65.25,"y":34},{"x":65.5,"y":36},{"x":65.75,"y":33},{"x":66,"y":34},{"x":66.25,"y":32},{"x":66.5,"y":35},{"x":66.75,"y":34},{"x":67,"y":36},{"x":67.25,"y":33},{"x":67.5,"y":34},{"x":67.75,"y":35},{"x":68,"y":33},{"x":68.25,"y":35},{"x":68.5,"y":34},{"x":68.75,"y":32},{"x":69,"y":35},{"x":69.25,"y":34},{"x":69.5,"y":33},{"x":69.75,"y":35},{"x":70,"y":34}],
"F":[{"x":15,"y":3},{"x":15.25,"y":4},{"x":15.5,"y":2},{"x":15.75,"y":4},{"x":16,"y":3},{"x":16.25,"y":5},{"x":16.5,"y":3},{"x":16.75,"y":2},{"x":17,"y":4},{"x":17.25,"y":3},{"x":17.5,"y":5},{"x":17.75,"y":3},{"x":18,"y":2},{"x":18.25,"y":4},{"x":18.5,"y":9},{"x":18.75,"y":5},{"x":19,"y":3},{"x":19.25,"y":4},{"x":19.5,"y":2},{"x":19.75,"y":4},{"x":20,"y":5},{"x":20.25,"y":3},{"x":20.5,"y":4},{"x":20.75,"y":2},{"x":21,"y":4},{"x":21.25,"y":3},{"x":21.5,"y":5},{"x":21.75,"y":4},{"x":22,"y":2},{"x":22.25,"y":4},{"x":22.5,"y":3},{"x":22.75,"y":5},{"x":23,"y":3},{"x":23.25,"y":5},{"x":23.5,"y":4},{"x":23.75,"y":2},{"x":24,"y":4},{"x":24.25,"y":3},{"x":24.5,"y":5},{"x":24.75,"y":3},{"x":25,"y":5},{"x":25.25,"y":2},{"x":25.5,"y":4},{"x":25.75,"y":6},{"x":26,"y":3},{"x":26.25,"y":5},{"x":26.5,"y":4},{"x":26.75,"y":3},{"x":27,"y":4},{"x":27.25,"y":6},{"x":27.5,"y":3},{"x":27.75,"y":5},{"x":28,"y":3},{"x":28.25,"y":4},{"x":28.5,"y":2},{"x":28.75,"y":5},{"x":29,"y":4},{"x":29.25,"y":5},{"x":29.5,"y":6},{"x":29.75,"y":8},{"x":30,"y":5},{"x":30.25,"y":3},{"x":30.5,"y":4},{"x":30.75,"y":3},{"x":31,"y":4},{"x":31.25,"y":5},{"x":31.5,"y":7},{"x":31.75,"y":10},{"x":32,"y":18},{"x":32.25,"y":9},{"x":32.5,"y":5},{"x":32.75,"y":4},{"x":33,"y":3},{"x":33.25,"y":5},{"x":33.5,"y":4},{"x":33.75,"y":6},{"x":34,"y":5},{"x":34.25,"y":7},{"x":34.5,"y":10},{"x":34.75,"y":14},{"x":35,"y":8},{"x":35.25,"y":5},{"x":35.5,"y":4},{"x":35.75,"y":6},{"x":36,"y":7},{"x":36.25,"y":12},{"x":36.5,"y":31},{"x":36.75,"y":14},{"x":37,"y":7},{"x":37.25,"y":10},{"x":37.5,"y":6},{"x":37.75,"y":4},{"x":38,"y":5},{"x":38.25,"y":3},{"x":38.5,"y":4},{"x":38.75,"y":6},{"x":39,"y":3},{"x":39.25,"y":5},{"x":39.5,"y":4},{"x":39.75,"y":2},{"x":40,"y":4},{"x":40.25,"y":6},{"x":40.5,"y":3},{"x":40.75,"y":5},{"x":41,"y":3},{"x":41.25,"y":4},{"x":41.5,"y":5},{"x":41.75,"y":3},{"x":42,"y":5},{"x":42.25,"y":3},{"x":42.5,"y":4},{"x":42.75,"y":6},{"x":43,"y":4},{"x":43.25,"y":5},{"x":43.5,"y":3},{"x":43.75,"y":4},{"x":44,"y":6},{"x":44.25,"y":3},{"x":44.5,"y":5},{"x":44.75,"y":4},{"x":45,"y":3},{"x":45.25,"y":4},{"x":45.5,"y":6},{"x":45.75,"y":3},{"x":46,"y":5},{"x":46.25,"y":4},{"x":46.5,"y":3},{"x":46.75,"y":5},{"x":47,"y":4},{"x":47.25,"y":6},{"x":47.5,"y":9},{"x":47.75,"y":16},{"x":48,"y":9},{"x":48.25,"y":5},{"x":48.5,"y":6},{"x":48.75,"y":8},{"x":49,"y":8},{"x":49.25,"y":5},{"x":49.5,"y":4},{"x":49.75,"y":3},{"x":50,"y":5},{"x":50.25,"y":3},{"x":50.5,"y":4},{"x":50.75,"y":6},{"x":51,"y":3},{"x":51.25,"y":5},{"x":51.5,"y":4},{"x":51.75,"y":3},{"x":52,"y":4},{"x":52.25,"y":6},{"x":52.5,"y":3},{"x":52.75,"y":5},{"x":53,"y":3},{"x":53.25,"y":4},{"x":53.5,"y":5},{"x":53.75,"y":3},{"x":54,"y":5},{"x":54.25,"y":3},{"x":54.5,"y":4},{"x":54.75,"y":6},{"x":55,"y":4},{"x":55.25,"y":5},{"x":55.5,"y":3},{"x":55.75,"y":4},{"x":56,"y":5},{"x":56.25,"y":7},{"x":56.5,"y":10},{"x":56.75,"y":14},{"x":57,"y":20},{"x":57.25,"y":11},{"x":57.5,"y":6},{"x":57.75,"y":4},{"x":58,"y":5},{"x":58.25,"y":3},{"x":58.5,"y":4},{"x":58.75,"y":6},{"x":59,"y":3},{"x":59.25,"y":5},{"x":59.5,"y":4},{"x":59.75,"y":3},{"x":60,"y":4},{"x":60.25,"y":6},{"x":60.5,"y":5},{"x":60.75,"y":3},{"x":61,"y":5},{"x":61.25,"y":4},{"x":61.5,"y":6},{"x":61.75,"y":3},{"x":62,"y":4},{"x":62.25,"y":5},{"x":62.5,"y":7},{"x":62.75,"y":10},{"x":63,"y":18},{"x":63.25,"y":10},{"x":63.5,"y":5},{"x":63.75,"y":4},{"x":64,"y":3},{"x":64.25,"y":5},{"x":64.5,"y":4},{"x":64.75,"y":6},{"x":65,"y":4},{"x":65.25,"y":3},{"x":65.5,"y":5},{"x":65.75,"y":4},{"x":66,"y":6},{"x":66.25,"y":4},{"x":66.5,"y":3},{"x":66.75,"y":5},{"x":67,"y":4},{"x":67.25,"y":6},{"x":67.5,"y":5},{"x":67.75,"y":8},{"x":68,"y":12},{"x":68.25,"y":16},{"x":68.5,"y":8},{"x":68.75,"y":5},{"x":69,"y":7},{"x":69.25,"y":11},{"x":69.5,"y":6},{"x":69.75,"y":4},{"x":70,"y":3}],
"L":[{"x":51.1,"y":195,"t":"Cycled LCMO+Co₃O₄"},{"x":51.1,"y":145,"t":"Cycled LCMO"},{"x":50.9,"y":118,"t":"Cycled Co₃O₄"},{"x":50.8,"y":80,"t":"LCMO+Co₃O₄"},{"x":51.1,"y":44,"t":"LCMO"},{"x":51.4,"y":8,"t":"Co₃O₄"}]
},
"encoding":{
"x":{"field":"x","type":"quantitative","scale":{"domain":[15,70],"nice":false,"zero":false},
"axis":{"values":[15,16,17,18,19,20,21,22,23,24,25,26,27,28,29,30,31,32,33,34,35,36,37,38,39,40,41,42,43,44,45,46,47,48,49,50,51,52,53,54,55,56,57,58,59,60,61,62,63,64,65,66,67,68,69,70],
"labelExpr":"indexof([15,20,30,40,50,60,70], datum.value) >= 0 ? datum.label : ''",
"grid":false,"tickSize":4,"tickColor":"#999999","domainColor":"#999999","domainWidth":1.5,
"labelFontSize":17,"labelColor":"#111111","labelPadding":8,"labelFlush":false,"labelOverlap":false,
"title":"Cu Kα 2Θ( degree )","titleFontSize":17,"titleFontWeight":"bold","titleColor":"#111111","titlePadding":8}},
"y":{"field":"y","type":"quantitative","scale":{"domain":[0,321],"nice":false,"zero":false},
"axis":{"title":"Intensity (arb.units)","titleFontSize":19,"titleFontWeight":"normal","titleColor":"#111111","labels":false,"ticks":false,"domain":false,"grid":false,"titlePadding":13}}
},
"layer":[
{"data":{"name":"A"},"mark":{"type":"line","color":"#b0141c","strokeWidth":1}},
{"data":{"name":"B"},"mark":{"type":"line","color":"#2cf02c","strokeWidth":1.1}},
{"data":{"name":"C"},"mark":{"type":"line","color":"#1a1aff","strokeWidth":1}},
{"data":{"name":"D"},"mark":{"type":"line","color":"#c41a1a","strokeWidth":1.1}},
{"data":{"name":"E"},"mark":{"type":"line","color":"#1a1a1a","strokeWidth":1.1}},
{"data":{"name":"F"},"mark":{"type":"line","color":"#f020f0","strokeWidth":1.1}},
{"data":{"name":"L"},"mark":{"type":"text","align":"left","baseline":"middle","fontSize":17,"color":"#111111","font":"Liberation Sans"},"encoding":{"text":{"field":"t","type":"nominal"}}}
]
}
